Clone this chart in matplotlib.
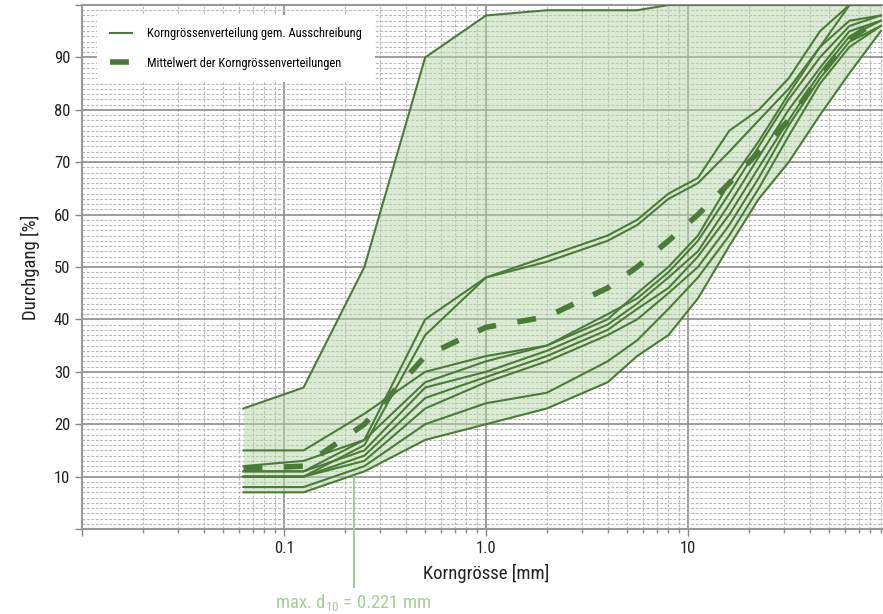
import numpy as np
import matplotlib
matplotlib.use('Agg')
import matplotlib.pyplot as plt
from matplotlib.ticker import LogLocator, MultipleLocator, FixedLocator, FixedFormatter, NullFormatter

plt.rcParams['font.family'] = ['Roboto Condensed', 'Liberation Sans Narrow', 'Roboto', 'DejaVu Sans']

# sieve sizes [mm]
sieves = [0.063, 0.125, 0.25, 0.5, 1.0, 2.0, 4.0, 5.6, 8.0, 11.2, 16.0, 22.4, 31.5, 45.0, 63.0, 90.0]

# passing [%] of the individual grading curves
curve_max = [23, 27, 50, 90, 98, 99, 99, 99, 100, 100, 100, 100, 100, 100, 100, 100]
curve_1 = [11, 11, 17, 40, 48, 52, 56, 59, 64, 67, 76, 80, 86, 95, 100, 100]
curve_2 = [10, 10, 16, 37, 48, 51, 55, 58, 63, 66, 72, 78, 84, 92, 97, 98]
curve_3 = [15, 15, 22, 30, 33, 35, 40, 45, 50, 56, 66, 74, 83, 92, 100, 100]
curve_4 = [12, 13, 17, 28, 32, 35, 41, 44, 49, 55, 64, 73, 82, 90, 96, 98]
curve_5 = [11, 11, 15, 27, 30, 34, 39, 43, 48, 53, 62, 71, 80, 88, 95, 97]
curve_6 = [10, 10, 14, 25, 29, 33, 38, 42, 46, 52, 60, 69, 78, 87, 94, 97]
curve_7 = [10, 10, 13, 23, 28, 32, 37, 40, 45, 50, 58, 67, 77, 86, 93, 96]
curve_8 = [8, 8, 12, 20, 24, 26, 32, 36, 42, 48, 56, 65, 75, 85, 92, 96]
curve_9 = [7, 7, 11, 17, 20, 23, 28, 33, 37, 44, 54, 63, 70, 79, 87, 95]

# mean of the grading curves
curve_mean = [11.5, 12, 20, 33, 38.5, 40.5, 46, 50, 55, 60, 66, 72, 78, 86.5, 93.5, 97.5]

d10_max = 0.221

line_col = '#4a7c37'
fill_col = '#b6d7a8'
note_col = '#a8cc98'

curves = [curve_max, curve_1, curve_2, curve_3, curve_4, curve_5,
          curve_6, curve_7, curve_8, curve_9]

fig = plt.figure(figsize=(8.83, 6.14), dpi=100)
ax = fig.add_axes([82 / 883, 85 / 614, 808 / 883, 524 / 614])

ax.set_xscale('log')
ax.set_xlim(0.01, 100)
ax.set_ylim(0, 100)

# envelope of all curves
lower = np.min(np.array(curves), axis=0)
upper = np.max(np.array(curves), axis=0)
ax.fill_between(sieves, lower, upper, color=fill_col, alpha=0.5, lw=0, zorder=2)

for i, c in enumerate(curves):
    ax.plot(sieves, c, color=line_col, lw=1.5, zorder=3,
            label='Korngrössenverteilung gem. Ausschreibung' if i == 0 else None)

ax.plot(sieves, curve_mean, color=line_col, lw=4, dashes=(3.4, 3.9), zorder=4,
        label='Mittelwert der Korngrössenverteilungen')

# ticks and grid
ax.xaxis.set_major_locator(FixedLocator([0.01, 0.1, 1, 10, 100]))
ax.xaxis.set_major_formatter(FixedFormatter(['', '0.1', '1.0', '10', '']))
ax.xaxis.set_minor_locator(LogLocator(base=10, subs=np.arange(2, 10), numticks=20))
ax.xaxis.set_minor_formatter(NullFormatter())
ax.yaxis.set_major_locator(FixedLocator(range(0, 101, 10)))
ax.yaxis.set_major_formatter(FixedFormatter([''] + [str(v) for v in range(10, 100, 10)] + ['']))
ax.yaxis.set_minor_locator(MultipleLocator(1))

ax.tick_params(axis='both', which='major', length=5, width=1, color='#888888',
               labelsize=12, labelcolor='#222222')
ax.tick_params(axis='x', which='minor', length=3, width=1, color='#888888')
ax.tick_params(axis='y', which='minor', length=0)

ax.grid(which='major', color='#8c8c8c', lw=1.2, zorder=1)
ax.grid(which='minor', color='#b8b8b8', lw=0.8, ls=(0, (2.5, 1.5)), zorder=1)
ax.set_axisbelow(True)

for side in ['left', 'bottom', 'top', 'right']:
    ax.spines[side].set_color('#999999')
    ax.spines[side].set_linewidth(1.5)

ax.set_xlabel('Korngrösse [mm]', fontsize=13.5, color='#222222', labelpad=6)
ax.set_ylabel('Durchgang [%]', fontsize=13.5, color='#222222', labelpad=10)

# max d10 marker
ax.plot([d10_max, d10_max], [10, -11], color=note_col, lw=1.5, clip_on=False, zorder=5)
ax.text(d10_max, -12.2, 'max. d$_{\\mathregular{10}}$ = 0.221 mm', color=note_col,
        fontsize=13.5, ha='center', va='top')

leg = ax.legend(loc='upper left', bbox_to_anchor=(0.019, 0.981), borderaxespad=0,
                fontsize=9, frameon=True, fancybox=False, framealpha=1,
                facecolor='white', edgecolor='none', handlelength=1.8,
                borderpad=1.0, labelspacing=1.3, handletextpad=1.2)

fig.savefig('out.png', dpi=100)
